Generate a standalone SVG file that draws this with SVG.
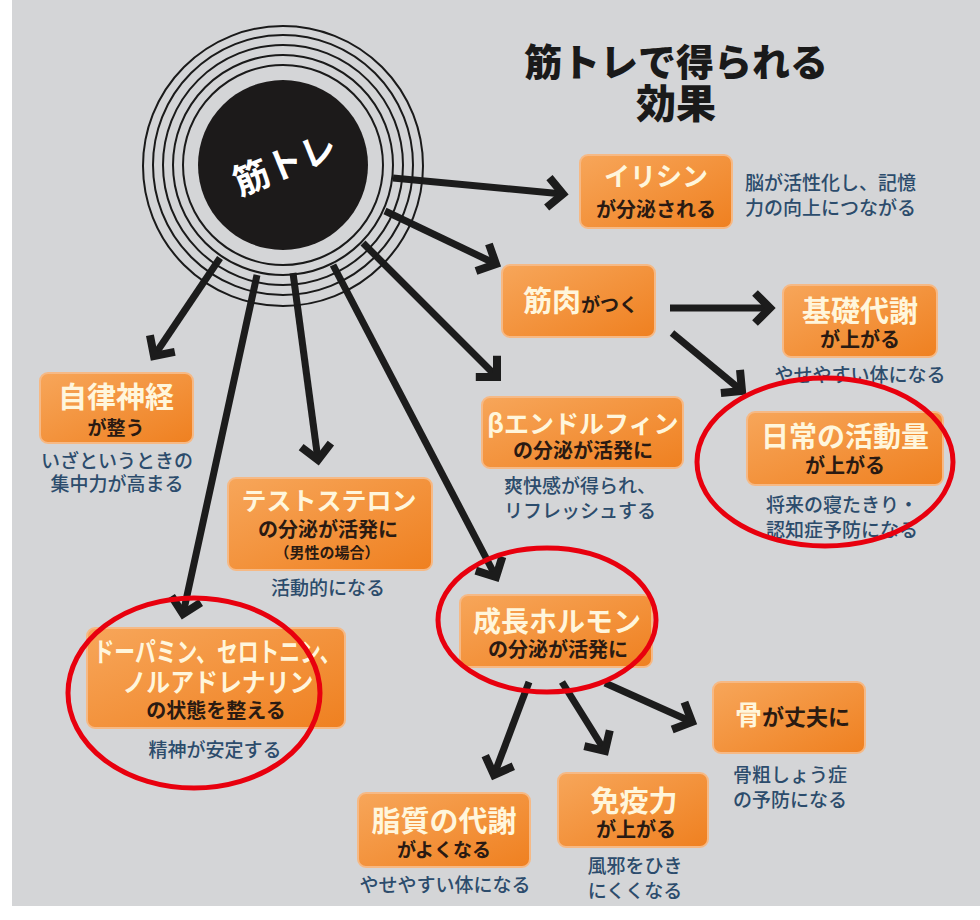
<svg xmlns="http://www.w3.org/2000/svg" width="980" height="920" viewBox="0 0 980 920">
<defs>
<linearGradient id="og" x1="0" y1="0" x2="1" y2="1">
<stop offset="0" stop-color="#f7a65a"/>
<stop offset="1" stop-color="#ef8020"/>
</linearGradient>
<marker id="ah" markerUnits="userSpaceOnUse" markerWidth="44" markerHeight="44" viewBox="-32 -22 44 44" refX="0" refY="0" orient="auto">
<path d="M-15,-15 L0,0 L-15,15" fill="none" stroke="#1c1c1c" stroke-width="8" stroke-linejoin="miter"/>
</marker>
<style>
.box{fill:url(#og);stroke:#f6b985;stroke-width:2}
.wt{font-family:"Noto Sans CJK JP","Noto Sans",sans-serif;font-weight:700;fill:#fff6dc;text-anchor:middle}
.dk{font-family:"Noto Sans CJK JP","Noto Sans",sans-serif;font-weight:700;fill:#2a1a12;text-anchor:middle}
.sd{font-family:"Noto Sans CJK JP","Noto Sans",sans-serif;font-weight:500;fill:#2c4c6c;font-size:19px;text-anchor:middle}
.ring{fill:none;stroke:#1a1a1a;stroke-width:2}
.conn line{stroke:#1c1c1c;stroke-width:7;marker-end:url(#ah)}
.red{fill:none;stroke:#e8000e;stroke-width:5}
</style>
</defs>
<rect width="980" height="920" fill="#ffffff"/>
<rect x="12" y="0" width="968" height="906" fill="#d4d5d7"/>

<g id="title">
<text x="676" y="76" font-family="Noto Sans CJK JP,sans-serif" font-weight="900" font-size="38" text-anchor="middle" fill="#1a1a1a">筋トレで得られる</text>
<text x="676" y="118" font-family="Noto Sans CJK JP,sans-serif" font-weight="900" font-size="40" text-anchor="middle" fill="#1a1a1a">効果</text>
</g>

<g id="connectors" class="conn">
<line x1="393" y1="178" x2="563" y2="194"/>
<line x1="385" y1="211" x2="496" y2="264"/>
<line x1="363" y1="243" x2="497" y2="377"/>
<line x1="333" y1="265" x2="496" y2="577"/>
<line x1="293" y1="273" x2="318" y2="460"/>
<line x1="257" y1="275" x2="183" y2="614"/>
<line x1="220" y1="258" x2="154" y2="356"/>
<line x1="670" y1="308" x2="770" y2="308"/>
<line x1="672" y1="333" x2="742" y2="391"/>
<line x1="529" y1="682" x2="494" y2="775"/>
<line x1="562" y1="682" x2="605" y2="751"/>
<line x1="605" y1="683" x2="692" y2="722"/>
</g>

<g id="center">
<circle class="ring" cx="283" cy="166" r="140"/>
<circle class="ring" cx="283" cy="165" r="130"/>
<circle class="ring" cx="283" cy="165" r="120"/>
<circle class="ring" cx="283" cy="165" r="110"/>
<circle class="ring" cx="283" cy="165" r="100"/>
<circle cx="283" cy="165" r="85" fill="#1c1a1a"/>
<text x="285" y="177" transform="rotate(-22 285 165)" font-family="Noto Sans CJK JP,sans-serif" font-weight="700" font-size="36" fill="#ffffff" text-anchor="middle">筋トレ</text>
</g>

<g id="irisin">
<rect class="box" x="580" y="155" width="152" height="73" rx="8"/>
<text class="wt" x="656" y="186" font-size="26">イリシン</text>
<text class="dk" x="656" y="217" font-size="20">が分泌される</text>
<text class="sd" x="745" y="190" text-anchor="start" style="text-anchor:start">脳が活性化し、記憶</text>
<text class="sd" x="745" y="215" style="text-anchor:start">力の向上につながる</text>
</g>

<g id="kinniku">
<rect class="box" x="502" y="265" width="153" height="72" rx="8"/>
<text x="523" y="312" font-family="Noto Sans CJK JP,sans-serif" font-weight="700"><tspan font-size="29" fill="#fff6dc">筋肉</tspan><tspan font-size="19" fill="#2a1a12">がつく</tspan></text>
</g>

<g id="kiso">
<rect class="box" x="783" y="285" width="154" height="72" rx="8"/>
<text class="wt" x="860" y="322" font-size="29">基礎代謝</text>
<text class="dk" x="860" y="347" font-size="20">が上がる</text>
<text class="sd" x="860" y="382">やせやすい体になる</text>
</g>

<g id="jiritsu">
<rect class="box" x="40" y="373" width="153" height="70" rx="8"/>
<text class="wt" x="116" y="408" font-size="29">自律神経</text>
<text class="dk" x="116" y="435" font-size="19">が整う</text>
<text class="sd" x="117" y="468">いざというときの</text>
<text class="sd" x="117" y="491">集中力が高まる</text>
</g>

<g id="beta">
<rect class="box" x="482" y="397" width="201" height="71" rx="8"/>
<text class="wt" x="583" y="433" font-size="25">βエンドルフィン</text>
<text class="dk" x="583" y="458" font-size="20">の分泌が活発に</text>
<text class="sd" x="580" y="493">爽快感が得られ、</text>
<text class="sd" x="580" y="518">リフレッシュする</text>
</g>

<g id="nichijo">
<rect class="box" x="747" y="412" width="196" height="73" rx="8"/>
<text class="wt" x="845" y="447" font-size="28">日常の活動量</text>
<text class="dk" x="845" y="473" font-size="20">が上がる</text>
<text class="sd" x="842" y="512">将来の寝たきり・</text>
<text class="sd" x="842" y="537">認知症予防になる</text>
</g>

<g id="testo">
<rect class="box" x="228" y="478" width="204" height="92" rx="8"/>
<text class="wt" x="329" y="510" font-size="25">テストステロン</text>
<text class="dk" x="328" y="537" font-size="20">の分泌が活発に</text>
<text class="dk" x="327" y="558" font-size="15">（男性の場合）</text>
<text class="sd" x="328" y="595">活動的になる</text>
</g>

<g id="dopamine">
<rect class="box" x="87" y="628" width="258" height="100" rx="8"/>
<text class="wt" x="217" y="662" font-size="27" textLength="247" lengthAdjust="spacingAndGlyphs">ドーパミン、セロトニン、</text>
<text class="wt" x="218" y="692" font-size="26" textLength="191" lengthAdjust="spacingAndGlyphs">ノルアドレナリン</text>
<text class="dk" x="216" y="718" font-size="20">の状態を整える</text>
<text class="sd" x="215" y="757">精神が安定する</text>
</g>

<g id="seicho">
<rect class="box" x="460" y="595" width="192" height="72" rx="8"/>
<text class="wt" x="557" y="632" font-size="28">成長ホルモン</text>
<text class="dk" x="558" y="657" font-size="20">の分泌が活発に</text>
</g>

<g id="hone">
<rect class="box" x="713" y="682" width="152" height="71" rx="8"/>
<text x="735" y="725" font-family="Noto Sans CJK JP,sans-serif" font-weight="700"><tspan font-size="27" fill="#fff6dc">骨</tspan><tspan font-size="22" fill="#2a1a12">が丈夫に</tspan></text>
<text class="sd" x="790" y="782">骨粗しょう症</text>
<text class="sd" x="790" y="807">の予防になる</text>
</g>

<g id="shishitsu">
<rect class="box" x="358" y="793" width="172" height="74" rx="8"/>
<text class="wt" x="444" y="832" font-size="29">脂質の代謝</text>
<text class="dk" x="444" y="857" font-size="19">がよくなる</text>
<text class="sd" x="445" y="892">やせやすい体になる</text>
</g>

<g id="meneki">
<rect class="box" x="558" y="773" width="150" height="74" rx="8"/>
<text class="wt" x="634" y="812" font-size="29">免疫力</text>
<text class="dk" x="636" y="837" font-size="20">が上がる</text>
<text class="sd" x="635" y="873">風邪をひき</text>
<text class="sd" x="635" y="898">にくくなる</text>
</g>

<g id="highlights">
<ellipse class="red" cx="825" cy="462" rx="128" ry="84"/>
<ellipse class="red" cx="194" cy="693" rx="126" ry="95"/>
<ellipse class="red" cx="547" cy="620" rx="109" ry="72"/>
</g>
</svg>
